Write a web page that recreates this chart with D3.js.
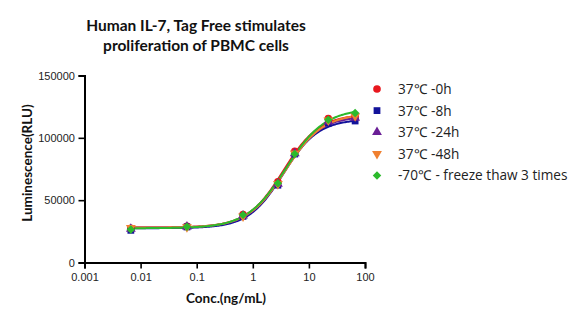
<!DOCTYPE html>
<html><head><meta charset="utf-8">
<script src="https://cdn.jsdelivr.net/npm/d3@7"></script>
<style>
html,body{margin:0;padding:0;background:#fff;}
svg{display:block;}
</style></head>
<body><svg id="c" width="584" height="322"></svg>
<script>
// ---- data ----
const conc = [0.0067, 0.067, 0.67, 2.8, 5.6, 22.2, 66.7];
const seriesNames = ["37\u2103 -0h", "37\u2103 -8h", "37\u2103 -24h", "37\u2103 -48h", "-70\u2103 - freeze thaw 3 times"];
const vals0h  = [27500, 29000, 38500, 64800, 89200, 115500, 117000];
const vals8h  = [25800, 28500, 37000, 62000, 87000, 111800, 113500];
const vals24h = [27000, 28800, 37500, 63000, 87500, 113000, 116000];
const vals48h = [27800, 28500, 37000, 63000, 87500, 114000, 117500];
const valsFT  = [26500, 28700, 38200, 63500, 87000, 114500, 120000];
// 4PL fit parameters [bottom, top, EC50, hill]
const fit0h  = [28000, 119000, 3.5, 1.35];
const fit8h  = [27500, 115000, 3.5, 1.40];
const fit24h = [28000, 117500, 3.6, 1.35];
const fit48h = [28000, 119500, 3.8, 1.30];
const fitFT  = [27500, 123500, 3.9, 1.25];
const xTicks = [0.001, 0.01, 0.1, 1, 10, 100];
const xTickLabels = ["0.001", "0.01", "0.1", "1", "10", "100"];
const yTicks = [0, 50000, 100000, 150000];

const colors = ["#e8171e", "#12129a", "#6a1f96", "#f08030", "#2cba2c"];
const symbols = ["circle", "square", "tri-up", "tri-down", "diamond"];
const allVals = [vals0h, vals8h, vals24h, vals48h, valsFT];
const allFits = [fit0h, fit8h, fit24h, fit48h, fitFT];

const svg = d3.select("#c");
const x = d3.scaleLog().domain([0.001, 100]).range([84.5, 365]);
const y = d3.scaleLinear().domain([0, 150000]).range([262.5, 75.5]);

// title
const title = svg.append("text").attr("text-anchor", "middle")
  .attr("font-family", "Lato, 'Open Sans', sans-serif").attr("font-weight", "bold")
  .attr("font-size", 15.5).attr("fill", "#111");
title.append("tspan").attr("x", 196).attr("y", 31).text("Human IL-7, Tag Free stimulates");
title.append("tspan").attr("x", 196).attr("y", 51).text("proliferation of PBMC cells");

// axes
const xAxis = d3.axisBottom(x).tickValues(xTicks).tickFormat((d, i) => xTickLabels[i]).tickSizeOuter(0).tickSize(6);
const yAxis = d3.axisLeft(y).tickValues(yTicks).tickFormat(d3.format("d")).tickSizeOuter(0).tickSize(6);
const gx = svg.append("g").attr("transform", `translate(0,${y(0)})`).call(xAxis);
const gy = svg.append("g").attr("transform", `translate(${x(0.001)},0)`).call(yAxis);
[gx, gy].forEach(g => {
  g.select(".domain").attr("stroke", "#000").attr("stroke-width", 2);
  g.selectAll(".tick line").attr("stroke", "#000").attr("stroke-width", 1.6);
  g.selectAll(".tick text").attr("font-family", "'Liberation Sans', Arial, sans-serif")
    .attr("font-size", 11).attr("fill", "#222");
});
gx.selectAll(".tick text").attr("dy", "0.9em");
gy.selectAll(".tick text").attr("dx", "-0.05em");

// axis labels
svg.append("text").attr("x", 226).attr("y", 303).attr("text-anchor", "middle")
  .attr("font-family", "Lato, sans-serif").attr("font-weight", "bold").attr("font-size", 13.5)
  .attr("fill", "#111").text("Conc.(ng/mL)");
svg.append("text").attr("transform", "translate(32,163) rotate(-90)").attr("text-anchor", "middle")
  .attr("font-family", "Lato, sans-serif").attr("font-weight", "bold").attr("font-size", 13.5)
  .attr("fill", "#111").text("Luminescence(RLU)");

// curves
const fpl = (p, c) => p[0] + (p[1] - p[0]) / (1 + Math.pow(p[2] / c, p[3]));
const line = d3.line().x(d => x(d[0])).y(d => y(d[1]));
const lx0 = Math.log10(conc[0]), lx1 = Math.log10(conc[conc.length - 1]);
allFits.forEach((p, i) => {
  const pts = d3.range(0, 201).map(k => {
    const c = Math.pow(10, lx0 + (lx1 - lx0) * k / 200);
    return [c, fpl(p, c)];
  });
  svg.append("path").attr("d", line(pts)).attr("fill", "none")
    .attr("stroke", colors[i]).attr("stroke-width", 2);
});

function symPath(s) {
  if (s === "circle") return d3.symbol().type(d3.symbolCircle).size(46)();
  if (s === "square") return d3.symbol().type(d3.symbolSquare).size(46)();
  if (s === "diamond") return d3.symbol().type(d3.symbolSquare).size(36)();
  return d3.symbol().type(d3.symbolTriangle).size(42)();
}
function symTransform(s, cx, cy) {
  if (s === "tri-down") return `translate(${cx},${cy}) rotate(180)`;
  if (s === "diamond") return `translate(${cx},${cy}) rotate(45)`;
  return `translate(${cx},${cy})`;
}

// markers
allVals.forEach((vals, i) => {
  svg.append("g").selectAll("path").data(vals).join("path")
    .attr("d", symPath(symbols[i]))
    .attr("transform", (d, j) => symTransform(symbols[i], x(conc[j]), y(d)))
    .attr("fill", colors[i]);
});

// legend
const lg = svg.append("g");
seriesNames.forEach((n, i) => {
  const cy = 89 + i * 21.6;
  lg.append("path").attr("d", symPath(symbols[i]))
    .attr("transform", symTransform(symbols[i], 377, cy)).attr("fill", colors[i]);
  lg.append("text").attr("x", 398).attr("y", cy + 5).attr("font-family", "'Open Sans', sans-serif")
    .attr("font-size", 13.6).attr("fill", "#222").text(n);
});
</script></body></html>
